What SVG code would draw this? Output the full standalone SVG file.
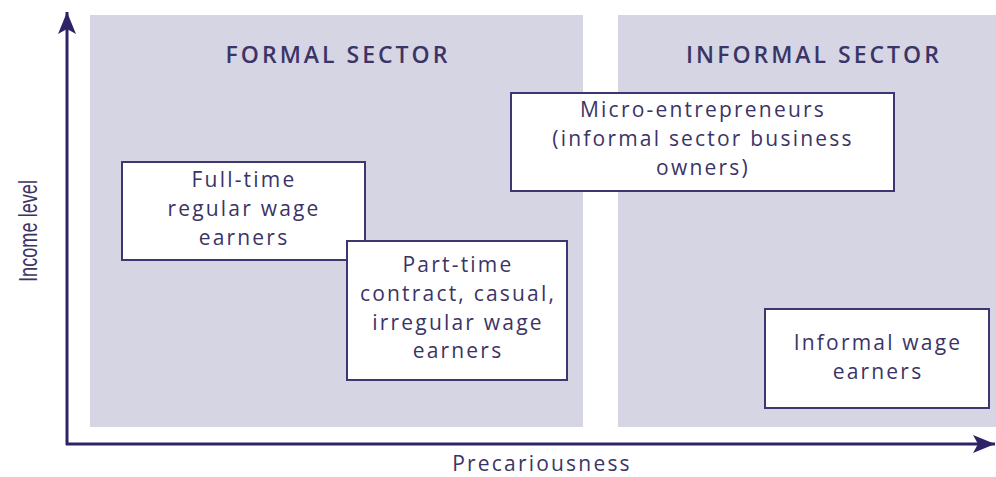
<svg xmlns="http://www.w3.org/2000/svg" width="996" height="477" viewBox="0 0 996 477">
<defs>
<style>
.panel{fill:#d6d5e3}
.box{fill:#ffffff;stroke:#3d3670;stroke-width:2}
.t{font-family:"Open Sans","Noto Sans",sans-serif;font-size:21px;fill:#3b3466;text-anchor:middle;letter-spacing:2.2px}
.h{font-family:"Open Sans","Noto Sans",sans-serif;font-size:23px;font-weight:600;fill:#3b3466;text-anchor:middle;letter-spacing:3px}
.axis{stroke:#2e2366;stroke-width:3;fill:none}
</style>
<marker id="arr" markerUnits="userSpaceOnUse" markerWidth="24" markerHeight="20" refX="22" refY="10" orient="auto">
<path d="M0,1 L22,10 L0,19 L5,10 Z" fill="#2e2366"/>
</marker>
</defs>
<rect width="996" height="477" fill="#ffffff"/>
<g id="formal-sector">
<rect class="panel" x="90" y="15" width="493" height="412"/>
<text class="h" x="338" y="63">FORMAL SECTOR</text>
</g>
<g id="informal-sector">
<rect class="panel" x="618" y="15" width="378" height="412"/>
<text class="h" x="814" y="63">INFORMAL SECTOR</text>
</g>
<g id="connectors">
<line class="axis" x1="67" y1="445" x2="67" y2="12" marker-end="url(#arr)"/>
<line class="axis" x1="66" y1="444" x2="995" y2="444" marker-end="url(#arr)"/>
</g>
<g id="y-label">
<text x="37" y="282" transform="rotate(-90 37 282)" textLength="102" lengthAdjust="spacingAndGlyphs" style="font-family:'Liberation Sans',sans-serif;font-size:26px;fill:#3b3466">Income level</text>
</g>
<g id="x-label">
<text class="t" x="542" y="471">Precariousness</text>
</g>
<g id="full-time">
<rect class="box" x="122" y="162" width="243" height="98"/>
<text class="t" x="244" y="187">Full-time</text>
<text class="t" x="244" y="216">regular wage</text>
<text class="t" x="244" y="245">earners</text>
</g>
<g id="part-time">
<rect class="box" x="347" y="241" width="220" height="139"/>
<text class="t" x="458" y="272">Part-time</text>
<text class="t" x="458" y="301">contract, casual,</text>
<text class="t" x="458" y="330">irregular wage</text>
<text class="t" x="458" y="358">earners</text>
</g>
<g id="micro">
<rect class="box" x="511" y="93" width="383" height="98"/>
<text class="t" x="703" y="117">Micro-entrepreneurs</text>
<text class="t" x="703" y="146">(informal sector business</text>
<text class="t" x="703" y="175">owners)</text>
</g>
<g id="informal-wage">
<rect class="box" x="765" y="309" width="224" height="99"/>
<text class="t" x="878" y="350">Informal wage</text>
<text class="t" x="878" y="379">earners</text>
</g>
</svg>
